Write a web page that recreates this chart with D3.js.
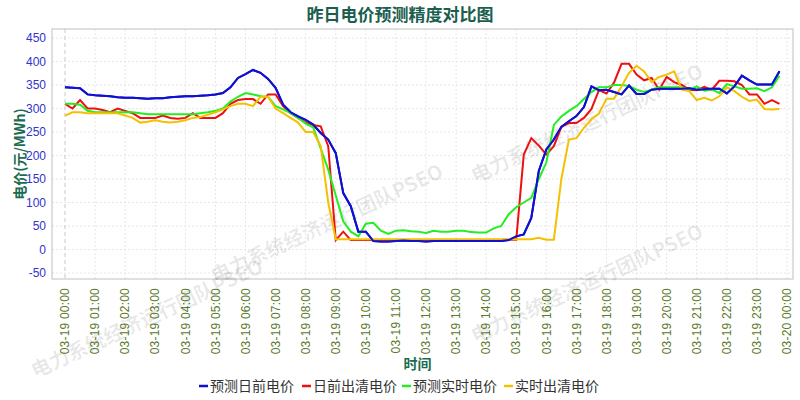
<!DOCTYPE html>
<html>
<head>
<meta charset="utf-8">
<script src="https://cdn.jsdelivr.net/npm/d3@7"></script>
<style>
  body { margin: 0; background: #fff; }
  text { font-family: 'Noto Sans CJK SC', 'DejaVu Sans', sans-serif; }
</style>
</head>
<body>
<div id="chart"></div>
<script>
// 15-minute points, 03-19 00:00 .. 23:45
const predDayAhead = [
  345, 344, 343, 330, 328, 327, 326, 324, 323, 323, 322, 321, 322, 322, 324, 325,
  326, 326, 327, 328, 330, 333, 345, 365, 373, 382, 376, 363, 344, 308, 292, 283,
  276, 266, 248, 234, 205, 120, 92, 38, 38, 18, 17, 17, 18, 19, 18, 18,
  17, 18, 18, 18, 18, 18, 18, 18, 18, 18, 18, 20, 28, 32, 67, 167,
  213, 234, 261, 273, 284, 303, 347, 339, 340, 335, 330, 349, 331, 331, 340, 342,
  342, 342, 342, 343, 340, 341, 342, 342, 332, 347, 370, 360, 351, 351, 351, 379,
];
const dayAheadClear = [
  310, 300, 318, 300, 300, 297, 292, 300, 295, 290, 280, 280, 280, 285, 280, 278,
  280, 290, 280, 280, 280, 290, 310, 318, 320, 320, 310, 330, 330, 305, 290, 280,
  270, 265, 262, 220, 20, 38, 20, 20, 20, 20, 20, 20, 20, 20, 20, 20,
  20, 20, 20, 20, 20, 20, 20, 20, 20, 20, 20, 21, 21, 202, 237, 221,
  202, 220, 261, 269, 269, 280, 299, 339, 332, 355, 395, 395, 372, 360, 365, 340,
  367, 356, 350, 340, 339, 346, 340, 359, 359, 358, 350, 330, 330, 310, 318, 310,
];
const predRealTime = [
  310, 310, 308, 295, 292, 292, 292, 292, 292, 292, 290, 288, 288, 288, 288, 288,
  288, 288, 290, 292, 295, 300, 315, 325, 333, 330, 326, 325, 305, 298, 290, 280,
  268, 260, 215, 170, 115, 60, 38, 28, 55, 57, 40, 33, 40, 41, 39, 38,
  35, 40, 38, 38, 40, 40, 37, 36, 36, 45, 50, 75, 90, 100, 110, 150,
  185, 265, 283, 295, 305, 320, 335, 345, 345, 350, 350, 348, 340, 335, 340, 345,
  345, 345, 345, 340, 347, 338, 340, 333, 352, 347, 342, 342, 343, 337, 345, 370,
];
const realTimeClear = [
  285, 292, 292, 290, 290, 290, 290, 290, 285, 280, 270, 272, 275, 272, 270, 272,
  275, 280, 282, 287, 292, 298, 305, 310, 310, 305, 325, 325, 300, 290, 280, 270,
  250, 250, 220, 100, 22, 22, 22, 22, 22, 22, 22, 22, 22, 22, 22, 22,
  22, 22, 22, 22, 22, 22, 22, 22, 22, 22, 22, 22, 22, 22, 22, 25,
  21, 21, 150, 234, 237, 259, 277, 289, 321, 321, 347, 376, 391, 379, 356, 367,
  372, 379, 340, 337, 318, 323, 317, 326, 345, 337, 325, 316, 319, 299, 298, 299,
];
const seriesNames = ['预测日前电价', '日前出清电价', '预测实时电价', '实时出清电价'];
const seriesColors = ['#1010d0', '#ee1010', '#22ee22', '#f5c000'];
const yTicks = [-50, 0, 50, 100, 150, 200, 250, 300, 350, 400, 450];
const hourLabels = d3.range(25).map((h) => (h < 24 ? `03-19 ${String(h).padStart(2, '0')}:00` : '03-20 00:00'));

const size = { width: 800, height: 400 };
const margin = { top: 29, right: 7, bottom: 121, left: 52 };

const svg = d3.select('#chart').append('svg').attr('width', size.width).attr('height', size.height);

const x = d3.scaleLinear().domain([0, 96]).range([65, 787]);
const y = d3.scaleLinear().domain([-50, 450]).range([273, 38]);

const plotL = margin.left;
const plotR = size.width - margin.right;
const plotT = margin.top;
const plotB = size.height - margin.bottom;

// grid
const grid = svg.append('g');
yTicks.forEach((v) => {
  grid.append('line').attr('x1', plotL).attr('x2', plotR).attr('y1', y(v)).attr('y2', y(v))
    .attr('stroke', '#e6e6e6').attr('stroke-dasharray', '2,2');
});
hourLabels.forEach((t, h) => {
  grid.append('line').attr('x1', x(h * 4)).attr('x2', x(h * 4)).attr('y1', plotT).attr('y2', plotB)
    .attr('stroke', h === 0 ? '#c8c8c8' : '#e6e6e6').attr('stroke-dasharray', h === 0 ? '4,3' : '2,2');
});

// frame
svg.append('rect').attr('x', plotL).attr('y', plotT).attr('width', plotR - plotL).attr('height', plotB - plotT)
  .attr('fill', 'none').attr('stroke', '#c0c0c0');

// watermark
const wm = [[590, 130], [330, 230], [590, 290], [150, 325]];
wm.forEach(([wx, wy]) => {
  svg.append('text').attr('transform', `translate(${wx},${wy}) rotate(-25)`)
    .attr('text-anchor', 'middle').attr('font-size', 20).attr('font-weight', 'bold')
    .attr('fill', '#000').attr('fill-opacity', 0.09).text('电力系统经济运行团队PSEO');
});

// y axis labels
svg.append('g').selectAll('text').data(yTicks).join('text')
  .attr('x', 46).attr('y', (d) => y(d)).attr('dy', '0.35em').attr('text-anchor', 'end')
  .attr('font-size', 12).attr('fill', '#3333cc').style('font-family', 'Liberation Sans, sans-serif').text((d) => d);

svg.append('text').attr('transform', `translate(20,${(plotT + plotB) / 2}) rotate(-90)`)
  .attr('text-anchor', 'middle').attr('dy', '0.35em').attr('font-size', 14).attr('font-weight', 'bold')
  .attr('fill', '#1b6b50').text('电价(元/MWh)');

// x labels
svg.append('g').selectAll('text').data(hourLabels).join('text')
  .attr('transform', (d, i) => `translate(${x(i * 4)},288) rotate(-90)`)
  .attr('text-anchor', 'end').attr('dy', '0.35em').attr('font-size', 12).attr('fill', '#5a7a2a')
  .style('font-family', 'Liberation Sans, sans-serif').attr('letter-spacing', 0.2)
  .text((d) => d);

svg.append('text').attr('x', (plotL + plotR) / 2 - 5).attr('y', 369).attr('text-anchor', 'middle')
  .attr('font-size', 14).attr('font-weight', 'bold').attr('fill', '#1b6b50').text('时间');

// title
svg.append('text').attr('x', 400).attr('y', 21).attr('text-anchor', 'middle')
  .attr('font-size', 17).attr('font-weight', 'bold').attr('fill', '#1b5e4e').text('昨日电价预测精度对比图');

// lines
const line = d3.line().x((d, i) => x(i)).y((d) => y(d));
[predDayAhead, dayAheadClear, predRealTime, realTimeClear].forEach((vals, k) => {
  svg.append('path').attr('d', line(vals)).attr('fill', 'none')
    .attr('stroke', seriesColors[k]).attr('stroke-width', 2);
});
// draw day-ahead forecast on top like the reference
svg.append('path').attr('d', line(predDayAhead)).attr('fill', 'none')
  .attr('stroke', seriesColors[0]).attr('stroke-width', 2);

// legend
const legendX = [199, 302, 402, 504];
seriesNames.forEach((n, k) => {
  const g = svg.append('g').attr('transform', `translate(${legendX[k]},386)`);
  g.append('line').attr('x1', 0).attr('x2', 9).attr('y1', 0).attr('y2', 0)
    .attr('stroke', seriesColors[k]).attr('stroke-width', 2.5);
  g.append('text').attr('x', 11).attr('dy', '0.35em').attr('font-size', 14).attr('fill', '#333').text(n);
});
</script>
</body>
</html>
